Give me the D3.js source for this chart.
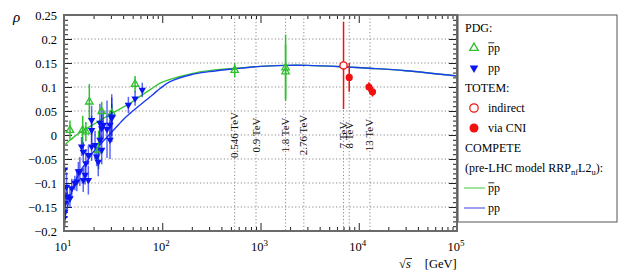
<!DOCTYPE html>
<html><head><meta charset="utf-8">
<script src="https://cdn.jsdelivr.net/npm/d3@7"></script>
<style>body{margin:0;background:#fff}svg{display:block}
svg text{font-family:"Liberation Serif","Times New Roman","DejaVu Serif",serif;}</style>
</head><body>
<svg id="c" width="627" height="280"></svg>
<script>
// ---------------- data ----------------
const ppSqrtS = [10.0,10.1,10.2,10.2,10.6,10.8,11.5,12.0,12.9,13.5,14.0,14.5,15.1,15.7,15.7,16.4,16.7,17.7,17.7,19.1,19.1,19.1,20.7,21.5,22.3,23.2,23.2,24.2,24.2,25.1,27.4,29.4,29.4,30.6,30.6,45.2,52.9,62.6];
const ppRho   = [-0.173,-0.072,-0.160,-0.142,-0.108,-0.128,-0.132,-0.111,-0.100,-0.097,-0.076,-0.076,-0.024,-0.035,-0.094,-0.083,-0.059,-0.042,-0.094,-0.024,0.010,0.031,-0.021,-0.045,-0.056,-0.010,0.025,-0.031,0.014,0.021,0.012,-0.010,0.021,0.035,0.038,0.0625,0.076,0.094];
const ppErr   = [0.02,0.012,0.03,0.03,0.03,0.025,0.02,0.02,0.015,0.02,0.02,0.03,0.02,0.02,0.025,0.02,0.03,0.02,0.03,0.03,0.03,0.03,0.03,0.02,0.03,0.03,0.04,0.03,0.03,0.03,0.06,0.04,0.03,0.05,0.04,0.017,0.015,0.015];

const pbarpSqrtS = [11.5,15.5,16.7,18.1,22.5,24.2,30.6,52.9,546,1800,1800];
const pbarpRho   = [0.010,0.010,0.007,0.069,-0.031,0.049,0.045,0.106,0.135,0.140,0.132];
const pbarpErr   = [0.02,0.03,0.02,0.037,0.04,0.02,0.02,0.017,0.015,0.069,0.056];

const totemIndSqrtS = [7000];
const totemIndRho   = [0.145];
const totemIndErr   = [0.091];
const totemCniSqrtS = [8000,12700,13800];
const totemCniRho   = [0.12,0.10,0.09];
const totemCniErr   = [0.03,0.01,0.01];

const competeSqrtS = [10,11,12,13,15,16.5,20,24,30,40,47,60,80,95,120,200,300,546,1000,1800,3000,7000,13000,30000,100000];
const competePP    = [-0.18,-0.145,-0.118,-0.097,-0.072,-0.06,-0.035,-0.017,0.004,0.032,0.045,0.063,0.084,0.097,0.111,0.126,0.132,0.138,0.143,0.145,0.145,0.142,0.139,0.134,0.123];
const competePbarP = [-0.022,-0.014,-0.008,-0.002,0.007,0.012,0.022,0.032,0.044,0.058,0.066,0.081,0.098,0.108,0.116,0.128,0.134,0.139,0.143,0.145,0.145,0.142,0.139,0.134,0.123];

const energyTeV = [0.546,0.9,1.8,2.76,7,8,13];
const yTicks = [-0.2,-0.15,-0.1,-0.05,0,0.05,0.1,0.15,0.2,0.25];
const xDecades = [10,100,1000,10000,100000];
const xDecadeExp = ["1","2","3","4","5"];

const legendRows = ["PDG:","pp","pp","TOTEM:","indirect","via CNI","COMPETE","(pre-LHC model RRP","pp","pp"];

// ---------------- setup ----------------
const X0=64, X1=457, Y0=15, Y1=231;
const svg = d3.select("#c");
const GREEN="#2fbf2f", BLUE="#0a14f0", RED="#f01010";
const x = d3.scaleLog().domain([10,1e5]).range([X0,X1]);
const y = d3.scaleLinear().domain([-0.2,0.25]).range([Y1,Y0]);

svg.append("defs").append("clipPath").attr("id","clip").append("rect")
  .attr("x",X0).attr("y",Y0).attr("width",X1-X0).attr("height",Y1-Y0);

// grid (horizontal)
const gridY = yTicks.filter(v => v>-0.2+1e-9 && v<0.25-1e-9);
svg.append("g").selectAll("line").data(gridY).join("line")
  .attr("x1",X0).attr("x2",X1).attr("y1",d=>y(d)).attr("y2",d=>y(d))
  .attr("stroke","#8a8a8a").attr("stroke-width",1).attr("stroke-dasharray","1.2,2.2");

// energy lines
svg.append("g").selectAll("line").data(energyTeV).join("line")
  .attr("x1",d=>x(d*1000)).attr("x2",d=>x(d*1000)).attr("y1",Y0).attr("y2",Y1)
  .attr("stroke","#8a8a8a").attr("stroke-width",1).attr("stroke-dasharray","1.2,2.2");
svg.append("g").selectAll("text").data(energyTeV).join("text")
  .attr("transform",d=>`translate(${x(d*1000)+3.5},${y(0)}) rotate(-90)`)
  .attr("text-anchor","middle").attr("font-size",11)
  .attr("fill","#111").text(d=>`${d} TeV`);

// ticks
const minorX = [];
for (let d=10; d<1e5; d*=10) for (let k=2;k<=9;k++) minorX.push(d*k);
const minorY = d3.range(-20,26).map(v=>v/100);
function clean(g){ g.select(".domain").remove(); g.selectAll("line").attr("stroke","#222"); }
svg.append("g").attr("transform",`translate(0,${Y1})`).call(d3.axisBottom(x).tickValues(minorX).tickSize(-4).tickFormat("")).call(clean);
svg.append("g").attr("transform",`translate(0,${Y1})`).call(d3.axisBottom(x).tickValues(xDecades).tickSize(-8).tickFormat("")).call(clean);
svg.append("g").attr("transform",`translate(0,${Y0})`).call(d3.axisTop(x).tickValues(minorX).tickSize(-4).tickFormat("")).call(clean);
svg.append("g").attr("transform",`translate(0,${Y0})`).call(d3.axisTop(x).tickValues(xDecades).tickSize(-8).tickFormat("")).call(clean);
svg.append("g").attr("transform",`translate(${X0},0)`).call(d3.axisLeft(y).tickValues(minorY).tickSize(-4).tickFormat("")).call(clean);
svg.append("g").attr("transform",`translate(${X1},0)`).call(d3.axisRight(y).tickValues(minorY).tickSize(-4).tickFormat("")).call(clean);
svg.append("g").attr("transform",`translate(${X1},0)`).call(d3.axisRight(y).tickValues(yTicks).tickSize(-8).tickFormat("")).call(clean);
const yAx = svg.append("g").attr("transform",`translate(${X0},0)`)
  .call(d3.axisLeft(y).tickValues(yTicks).tickSize(-8).tickPadding(7).tickFormat(d3.format("~g")))
  .call(clean);
yAx.attr("font-family",null).attr("font-size",12.5);
yAx.selectAll("text").attr("fill","#000");

// x labels 10^n
const xl = svg.append("g").selectAll("text").data(xDecades).join("text")
  .attr("x",d=>x(d)-1).attr("y",251).attr("text-anchor","middle")
  .attr("font-size",12.5).attr("fill","#000");
xl.append("tspan").text("10");
xl.append("tspan").attr("dy",-5).attr("font-size",9).text((d,i)=>xDecadeExp[i]);

// axis titles
svg.append("text").attr("x",13).attr("y",22).attr("font-size",15)
  .attr("font-style","italic").text("ρ");
const xt = svg.append("text").attr("x",399).attr("y",268).attr("font-size",12.5);
xt.append("tspan").text("√");
xt.append("tspan").attr("font-style","italic").text("s");
xt.append("tspan").attr("dx",14).text("[GeV]");
svg.append("line").attr("x1",406).attr("x2",412).attr("y1",258.5).attr("y2",258.5).attr("stroke","#000").attr("stroke-width",0.8);

// curves
const plot = svg.append("g").attr("clip-path","url(#clip)");
const line = d3.line().x(d=>x(d[0])).y(d=>y(d[1])).curve(d3.curveCatmullRom.alpha(0.5));
plot.append("path").datum(competeSqrtS.map((s,i)=>[s,competePbarP[i]]))
  .attr("d",line).attr("fill","none").attr("stroke","#33c733").attr("stroke-width",1.4);
plot.append("path").datum(competeSqrtS.map((s,i)=>[s,competePP[i]]))
  .attr("d",line).attr("fill","none").attr("stroke","#1c3cf0").attr("stroke-width",1.4);

// error bars + markers
function errBars(sArr,rArr,eArr,color,op){
  plot.append("g").selectAll("line").data(sArr).join("line")
    .attr("x1",d=>x(d)).attr("x2",d=>x(d))
    .attr("y1",(d,i)=>y(rArr[i]-eArr[i])).attr("y2",(d,i)=>y(rArr[i]+eArr[i]))
    .attr("stroke",color).attr("stroke-width",1.5).attr("opacity",op);
}
const triSize = 6.5*6.5*Math.sqrt(3)/4*1.3;
errBars(pbarpSqrtS,pbarpRho,pbarpErr,GREEN,1);
errBars(ppSqrtS,ppRho,ppErr,BLUE,0.65);
errBars(totemIndSqrtS,totemIndRho,totemIndErr,RED,1);
errBars(totemCniSqrtS,totemCniRho,totemCniErr,RED,1);

plot.append("g").selectAll("path").data(pbarpSqrtS).join("path")
  .attr("d",d3.symbol(d3.symbolTriangle,triSize))
  .attr("transform",(d,i)=>`translate(${x(d)},${y(pbarpRho[i])})`)
  .attr("fill","none").attr("stroke",GREEN).attr("stroke-width",1.3);
plot.append("g").selectAll("path").data(ppSqrtS).join("path")
  .attr("d",d3.symbol(d3.symbolTriangle,triSize))
  .attr("transform",(d,i)=>`translate(${x(d)},${y(ppRho[i])}) rotate(180)`)
  .attr("fill",BLUE);
plot.append("g").selectAll("circle").data(totemIndSqrtS).join("circle")
  .attr("cx",d=>x(d)).attr("cy",(d,i)=>y(totemIndRho[i])).attr("r",3.6)
  .attr("fill","#fff").attr("stroke",RED).attr("stroke-width",1.3);
plot.append("g").selectAll("circle").data(totemCniSqrtS).join("circle")
  .attr("cx",d=>x(d)).attr("cy",(d,i)=>y(totemCniRho[i])).attr("r",3.6)
  .attr("fill",RED);

// frame
svg.append("rect").attr("x",X0).attr("y",Y0).attr("width",X1-X0).attr("height",Y1-Y0)
  .attr("fill","none").attr("stroke","#6a6a6a").attr("stroke-width",2);

// legend
const L = svg.append("g");
L.append("rect").attr("x",458).attr("y",15).attr("width",159).attr("height",207)
  .attr("fill","#fff").attr("stroke","#555").attr("stroke-width",1);
const base = i => 32 + 20*i;
function ltext(i,xp,str){
  return L.append("text").attr("x",xp).attr("y",base(i))
    .attr("font-size",12).attr("fill","#000").text(str);
}
function pbarText(i){
  ltext(i,488,legendRows[i]);
  L.append("line").attr("x1",488.3).attr("x2",494.3).attr("y1",base(i)-9.2).attr("y2",base(i)-9.2)
    .attr("stroke","#000").attr("stroke-width",0.8);
}
const legTri = 7.5*7.5*Math.sqrt(3)/4*1.3;
ltext(0,465,legendRows[0]);
L.append("path").attr("d",d3.symbol(d3.symbolTriangle,legTri)())
  .attr("transform",`translate(474,${base(1)-4})`).attr("fill","none").attr("stroke",GREEN).attr("stroke-width",1.3);
pbarText(1);
L.append("path").attr("d",d3.symbol(d3.symbolTriangle,legTri)())
  .attr("transform",`translate(474,${base(2)-4}) rotate(180)`).attr("fill",BLUE);
ltext(2,488,legendRows[2]);
ltext(3,465,legendRows[3]);
L.append("circle").attr("cx",474).attr("cy",base(4)-4).attr("r",4.2).attr("fill","none").attr("stroke",RED).attr("stroke-width",1.2);
ltext(4,488,legendRows[4]);
L.append("circle").attr("cx",474).attr("cy",base(5)-4).attr("r",4.5).attr("fill",RED);
ltext(5,488,legendRows[5]);
ltext(6,465,legendRows[6]);
const pre = ltext(7,465,legendRows[7]);
pre.append("tspan").attr("dy",3).attr("font-size",8.5).text("nf");
pre.append("tspan").attr("dy",-3).text("L2");
pre.append("tspan").attr("dy",3).attr("font-size",8.5).text("u");
pre.append("tspan").attr("dy",-3).text("):");
L.append("line").attr("x1",464).attr("x2",485).attr("y1",base(8)-4).attr("y2",base(8)-4).attr("stroke","#6ad66a").attr("stroke-width",1.3);
pbarText(8);
L.append("line").attr("x1",464).attr("x2",485).attr("y1",base(9)-4).attr("y2",base(9)-4).attr("stroke","#6a6af0").attr("stroke-width",1.3);
ltext(9,488,legendRows[9]);
</script>
</body></html>
